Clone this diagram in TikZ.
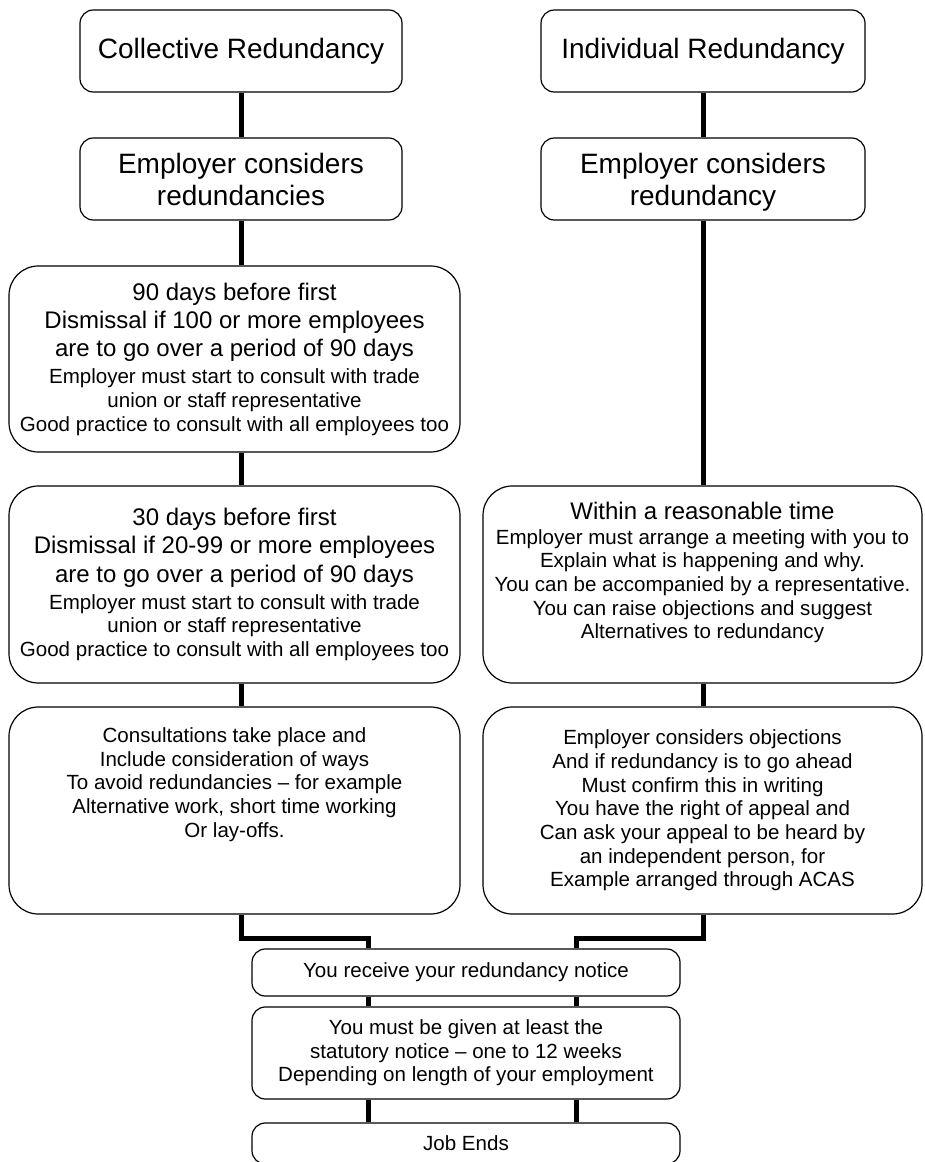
\documentclass[tikz,border=0pt]{standalone}
\usepackage{fontspec}
\setmainfont{Liberation Sans}
\usepackage{tikz}
\usetikzlibrary{positioning}

\newlength{\pxu}
\setlength{\pxu}{0.75pt}
\newcommand{\bigtxt}[1]{{\fontsize{18pt}{21pt}\selectfont #1}}

\begin{document}
\begin{tikzpicture}[
    x=0.75pt, y=-0.75pt,
    box/.style={rectangle, rounded corners=10pt, draw=black, line width=0.9pt, fill=white,
                inner sep=0pt, align=center, font=\fontsize{15.4pt}{17.75pt}\selectfont},
    head/.style={box, font=\fontsize{21pt}{24pt}\selectfont},
    panel/.style={box, rounded corners=22pt},
    txt/.style={inner sep=0pt, align=center, font=\fontsize{15.4pt}{17.75pt}\selectfont},
    conn/.style={line width=3.75pt, line join=miter, line cap=butt}
]
    \path[use as bounding box, clip] (0,0) rectangle (924,1162);

    % collective side
    \node[head, minimum width=322\pxu, minimum height=82\pxu] (coll) at (241,51) {Collective Redundancy};
    \node[head, minimum width=322\pxu, minimum height=82\pxu] (consL) at (241,179) {Employer considers\\redundancies};
    \node[panel, minimum width=451\pxu, minimum height=186\pxu] (day90) at (234.5,359)
        {\bigtxt{90 days before first}\\[3.5pt]
         \bigtxt{Dismissal if 100 or more employees}\\[3.5pt]
         \bigtxt{are to go over a period of 90 days}\\[2.5pt]
         Employer must start to consult with trade\\
         union or staff representative\\
         Good practice to consult with all employees too};
    \node[panel, minimum width=451\pxu, minimum height=197\pxu] (day30) at (234.5,584.5)
        {\bigtxt{30 days before first}\\[3.5pt]
         \bigtxt{Dismissal if 20-99 or more employees}\\[3.5pt]
         \bigtxt{are to go over a period of 90 days}\\[2.5pt]
         Employer must start to consult with trade\\
         union or staff representative\\
         Good practice to consult with all employees too};
    \node[panel, minimum width=451\pxu, minimum height=207\pxu] (consult) at (234.5,810.5) {};
    \node[txt, anchor=north] (consultTxt) at ([yshift=-21\pxu]consult.north)
        {Consultations take place and\\
         Include consideration of ways\\
         To avoid redundancies -- for example\\
         Alternative work, short time working\\
         Or lay-offs.};

    % individual side
    \node[head, minimum width=324\pxu, minimum height=82\pxu] (indiv) at (703,51) {Individual Redundancy};
    \node[head, minimum width=324\pxu, minimum height=82\pxu, text depth=0pt] (consR) at (703,179) {Employer considers\\redundancy};
    \node[panel, minimum width=439\pxu, minimum height=197\pxu] (within) at (702.5,584.5) {};
    \node[txt, anchor=north] (withinTxt) at ([yshift=-16\pxu]within.north)
        {\bigtxt{Within a reasonable time}\\[1pt]
         Employer must arrange a meeting with you to\\
         Explain what is happening and why.\\
         You can be accompanied by a representative.\\
         You can raise objections and suggest\\
         Alternatives to redundancy};
    \node[panel, minimum width=439\pxu, minimum height=207\pxu] (objection) at (702.5,810.5)
        {Employer considers objections\\
         And if redundancy is to go ahead\\
         Must confirm this in writing\\
         You have the right of appeal and\\
         Can ask your appeal to be heard by\\
         an independent person, for\\
         Example arranged through ACAS};

    % common end
    \node[box, minimum width=428\pxu, minimum height=47\pxu] (notice) at (466,972.5) {You receive your redundancy notice};
    \node[box, minimum width=428\pxu, minimum height=92\pxu] (must) at (466,1053)
        {You must be given at least the\\
         statutory notice -- one to 12 weeks\\
         Depending on length of your employment};
    \node[box, minimum width=428\pxu, minimum height=41\pxu] (jobend) at (466,1143.5) {Job Ends};

    \coordinate (jl) at (368,938);
    \coordinate (jr) at (576,938);

    \draw[conn] (coll) -- (consL);
    \draw[conn] (consL) -- (consL |- day90.north);
    \draw[conn] (consL |- day90.south) -- (consL |- day30.north);
    \draw[conn] (consL |- day30.south) -- (consL |- consult.north);
    \draw[conn] (indiv) -- (consR);
    \draw[conn] (consR) -- (consR |- within.north);
    \draw[conn] (consR |- within.south) -- (consR |- objection.north);
    \draw[conn] (consL |- consult.south) |- (jl) -- (jl |- notice.north);
    \draw[conn] (consR |- objection.south) |- (jr) -- (jr |- notice.north);
    \draw[conn] (jl |- notice.south) -- (jl |- must.north);
    \draw[conn] (jr |- notice.south) -- (jr |- must.north);
    \draw[conn] (jl |- must.south) -- (jl |- jobend.north);
    \draw[conn] (jr |- must.south) -- (jr |- jobend.north);
\end{tikzpicture}
\end{document}
